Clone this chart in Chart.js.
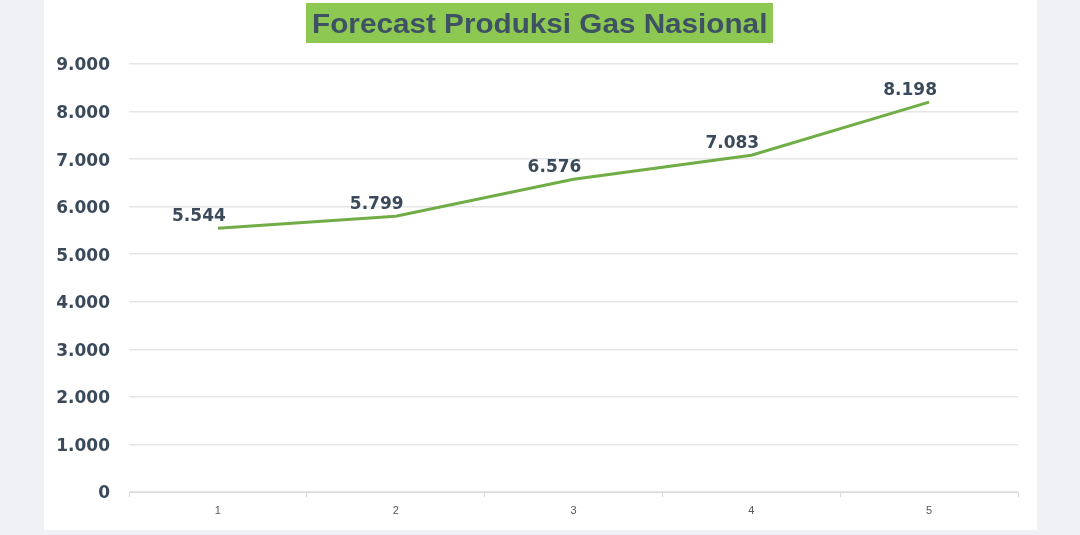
<!DOCTYPE html>
<html>
<head>
<meta charset="utf-8">
<script src="https://cdn.jsdelivr.net/npm/chart.js@4.4.0/dist/chart.umd.min.js"></script>
<style>
    body { margin: 0; background: #eff1f4; width: 1080px; height: 535px; overflow: hidden; font-family: "Liberation Sans", Arial, sans-serif; }
    #panel { position: absolute; left: 44px; top: 0; width: 993px; height: 530px; background: #fff; }
    #title { position: absolute; left: 262px; top: 3px; width: 467px; height: 40px; background: #8dc853;
             color: #3e5263; font-weight: bold; font-size: 28px; line-height: 41px; text-align: center; white-space: nowrap; }
    #title span { display: inline-block; transform: scaleX(1.06); }
    canvas { position: absolute; left: 0; top: 0; }
</style>
</head>
<body>
<div id="panel">
    <canvas id="gasChart" width="993" height="530"></canvas>
    <div id="title"><span>Forecast Produksi Gas Nasional</span></div>
</div>
<script>
// Forecast produksi gas nasional
const categories = ['1', '2', '3', '4', '5'];
const produksi = [5544, 5799, 6576, 7083, 8198];
const yTickLabels = ['0', '1.000', '2.000', '3.000', '4.000', '5.000', '6.000', '7.000', '8.000', '9.000'];

const fmt = v => v.toLocaleString('de-DE');
const boldFont = '"DejaVu Sans", "Liberation Sans", Arial, sans-serif';

// value labels, drawn a bit left of and above each point
const valueLabels = {
    id: 'valueLabels',
    afterDatasetsDraw(chart) {
        const ctx = chart.ctx;
        const meta = chart.getDatasetMeta(0);
        ctx.save();
        ctx.font = 'bold 17px ' + boldFont;
        ctx.fillStyle = '#3b4a5a';
        ctx.textAlign = 'center';
        ctx.textBaseline = 'middle';
        meta.data.forEach((pt, i) => {
            ctx.fillText(fmt(produksi[i]), pt.x - 19, pt.y - 12);
        });
        ctx.restore();
    }
};

new Chart(document.getElementById('gasChart').getContext('2d'), {
    type: 'line',
    data: {
        labels: categories,
        datasets: [{
            data: produksi,
            borderColor: '#70ad47',
            borderWidth: 3,
            pointRadius: 0,
            tension: 0,
            fill: false
        }]
    },
    options: {
        responsive: false,
        animation: false,
        layout: { padding: { top: 64, right: 19, left: 0, bottom: 0 } },
        plugins: { legend: { display: false }, tooltip: { enabled: false } },
        scales: {
            x: {
                offset: true,
                grid: { offset: true, drawOnChartArea: false, drawTicks: true, tickLength: 5, color: '#d9d9d9' },
                border: { display: true, color: '#d9d9d9' },
                ticks: { color: '#595959', font: { size: 11, family: '"Liberation Sans", Arial, sans-serif' }, padding: 7 },
                afterFit(scale) { scale.height = 38; }
            },
            y: {
                min: 0,
                max: 9000,
                ticks: {
                    stepSize: 1000,
                    color: '#3b4a5a',
                    padding: 19,
                    labelOffset: 2,
                    font: { size: 17, weight: 'bold', family: boldFont },
                    callback: (v, i) => yTickLabels[i]
                },
                grid: { color: '#e6e6e6', drawTicks: false, lineWidth: 1.5 },
                border: { display: false },
                afterFit(scale) { scale.width = 85; }
            }
        }
    },
    plugins: [valueLabels]
});
</script>
</body>
</html>
